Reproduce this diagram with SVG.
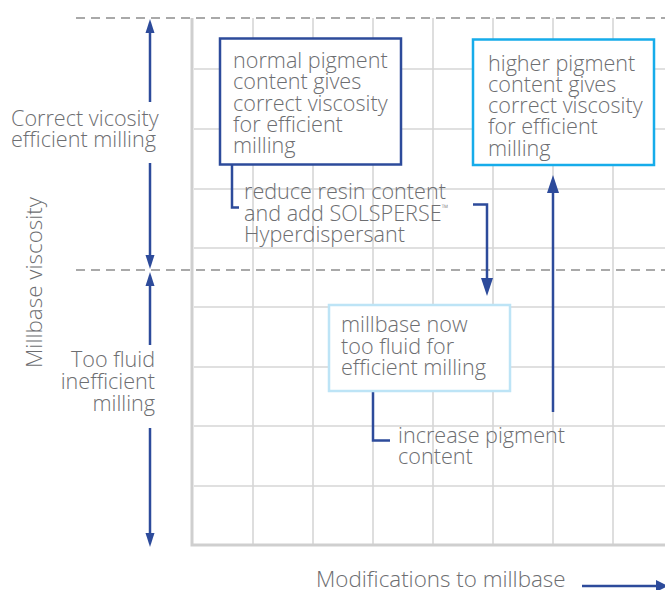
<svg xmlns="http://www.w3.org/2000/svg" width="665" height="590" viewBox="0 0 665 590">
<style>
text{font-family:"Open Sans","Noto Sans","Liberation Sans",sans-serif;font-size:21.6px;fill:#6d6e71;font-weight:300}
.big{font-size:22.4px}
.grid{stroke:#d6d6d6;stroke-width:1.6;fill:none}
.axis{stroke:#cfcfcf;stroke-width:3;fill:none}
.dash{stroke:#a9a9a9;stroke-width:2.2;stroke-dasharray:9 6;fill:none}
.flow{stroke:#2d4b9b;stroke-width:2.5;fill:none}
.head{fill:#2d4b9b}
</style>
<rect width="665" height="590" fill="#ffffff"/>
<g id="grid">
<path class="grid" d="M253 18V545M313 18V545M373 18V545M433 18V545M493 18V545M553 18V545M613 18V545"/>
<path class="grid" d="M194 69H665M194 129H665M194 189H665M194 248H665M194 307H665M194 367H665M194 426H665M194 486H665"/>
<path class="axis" d="M192 18V545H665"/>
<path class="dash" d="M76 18H665M76 270H665"/>
</g>
<g id="axis-labels">
<text class="big" transform="translate(42,368) rotate(-90)">Millbase viscosity</text>
<text class="big" x="316" y="587">Modifications to millbase</text>
<text x="11" y="126">Correct vicosity</text>
<text x="11" y="147">efficient milling</text>
<text x="155" y="367" text-anchor="end">Too fluid</text>
<text x="155" y="389" text-anchor="end">inefficient</text>
<text x="155" y="411" text-anchor="end">milling</text>
</g>
<g id="connectors">
<path class="flow" d="M150 32V102M150 163V256"/>
<polygon class="head" points="150,19 154.5,33 145.5,33"/>
<polygon class="head" points="150,269 154.5,255 145.5,255"/>
<path class="flow" d="M150 285V345M150 428V533"/>
<polygon class="head" points="150,272 154.5,286 145.5,286"/>
<polygon class="head" points="150,547 154.5,533 145.5,533"/>
<path class="flow" d="M232 165V207.5H239"/>
<path class="flow" d="M473 204.5H487V280"/>
<polygon class="head" points="487,296 481,278 493,278"/>
<path class="flow" d="M373 391V440.5H390"/>
<path class="flow" d="M553 412V190"/>
<polygon class="head" points="553,175 547,193 559,193"/>
<path class="flow" d="M582 586H658"/>
<polygon class="head" points="668,586 656,580 656,592"/>
</g>
<g id="node-normal">
<rect x="220" y="38.5" width="181" height="126" fill="#ffffff" stroke="#2d4b9b" stroke-width="2.5"/>
<text x="233" y="68">normal pigment</text>
<text x="233" y="89">content gives</text>
<text x="233" y="110.5">correct viscosity</text>
<text x="233" y="131.5">for efficient</text>
<text x="233" y="152.5">milling</text>
</g>
<g id="node-higher">
<rect x="473" y="39.5" width="181" height="125.5" fill="#ffffff" stroke="#16acea" stroke-width="2.5"/>
<text x="488" y="71">higher pigment</text>
<text x="488" y="92">content gives</text>
<text x="488" y="113">correct viscosity</text>
<text x="488" y="134">for efficient</text>
<text x="488" y="155.5">milling</text>
</g>
<g id="node-fluid">
<rect x="329" y="305" width="181" height="86" fill="#ffffff" stroke="#bde4f6" stroke-width="2.5"/>
<text x="341" y="332">millbase now</text>
<text x="341" y="353.5">too fluid for</text>
<text x="341" y="375">efficient milling</text>
</g>
<g id="label-reduce">
<text x="244" y="199">reduce resin content</text>
<text x="244" y="221">and add SOLSPERSE<tspan font-size="9" dy="-10">™</tspan></text>
<text x="244" y="242">Hyperdispersant</text>
</g>
<g id="label-increase">
<text x="398" y="443">increase pigment</text>
<text x="398" y="464">content</text>
</g>
</svg>
